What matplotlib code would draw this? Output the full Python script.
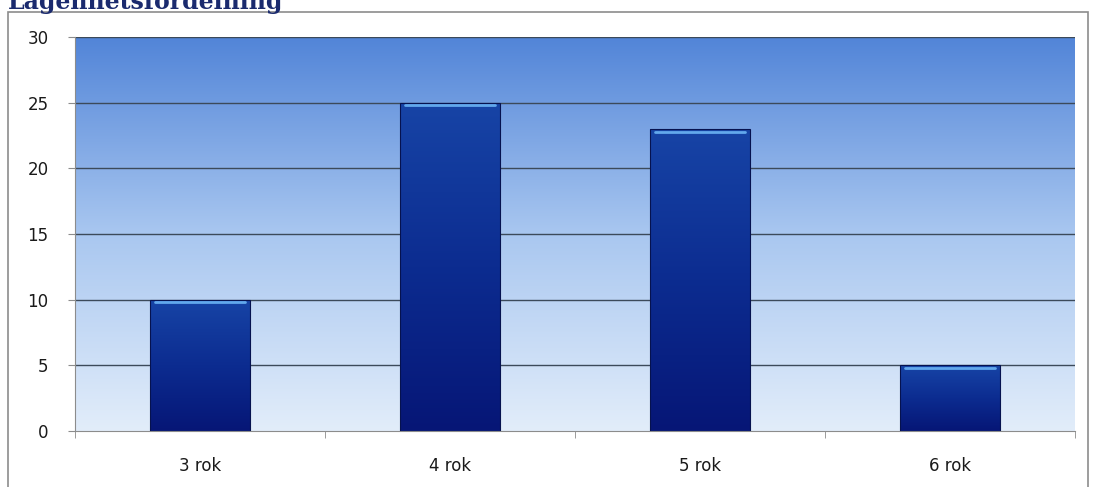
import numpy as np
import matplotlib
matplotlib.use("Agg")
import matplotlib.pyplot as plt
from matplotlib.colors import LinearSegmentedColormap
from matplotlib.patches import Rectangle

# apartment size distribution
categories = ["3 rok", "4 rok", "5 rok", "6 rok"]
counts = [10, 25, 23, 5]
title = "Lägenhetsfördelning"

fig = plt.figure(figsize=(10.93, 4.87), dpi=100)
fig.patch.set_facecolor("white")

# outer chart frame
frame = Rectangle((8 / 1093, -0.1), (1088 - 8) / 1093, 1.1 - 12 / 487,
                  transform=fig.transFigure, fill=False,
                  edgecolor="#8c8c8c", lw=1.2)
fig.patches.append(frame)

# title, partly cut off by top edge like the scan
fig.text(8 / 1093, 1.0 - 1 / 487, title, family="DejaVu Serif", weight="bold",
         fontsize=17, color="#1a2a6e", va="center", ha="left")

ax = fig.add_axes([75 / 1093, 56 / 487, 1000 / 1093, 394 / 487])
x = np.arange(len(categories))
ax.set_xlim(-0.5, len(categories) - 0.5)
ax.set_ylim(0, 30)

# background gradient
bg_cmap = LinearSegmentedColormap.from_list("bg", ["#e2edfa", "#a9c7f0", "#5285d8"])
grad = np.linspace(0, 1, 256).reshape(-1, 1)
ax.imshow(grad, cmap=bg_cmap, aspect="auto", origin="lower",
          extent=[-0.5, len(categories) - 0.5, 0, 30], zorder=0)

# gridlines
for yv in range(5, 31, 5):
    ax.axhline(yv, color="#3c4a5a", lw=1.0, zorder=1)

# bars with gradient fill
bar_cmap = LinearSegmentedColormap.from_list("bar", ["#061676", "#0c2c90", "#1744a6"])
bars = ax.bar(x, counts, width=0.4, color="none", edgecolor="#06124f", lw=0.8, zorder=3)
for b, h in zip(bars, counts):
    x0 = b.get_x()
    w = b.get_width()
    im = ax.imshow(grad, cmap=bar_cmap, aspect="auto", origin="lower",
                   extent=[x0, x0 + w, 0, h], zorder=2)
    im.set_clip_path(b)
    # glossy highlight near top
    ax.plot([x0 + 0.02, x0 + w - 0.02], [h - 0.2, h - 0.2],
            color="#62a8ec", lw=2.0, solid_capstyle="round", zorder=4)

ax.set_xticks(x)
ax.set_xticklabels(categories, fontsize=12, color="#1a1a1a")
ax.set_xticks(np.arange(-0.5, len(categories), 1), minor=True)
ax.tick_params(axis="x", which="major", length=0, pad=19)
ax.tick_params(axis="x", which="minor", length=5, color="#8c8c8c", direction="out")
ax.set_yticks(range(0, 31, 5))
ax.tick_params(axis="y", length=5, color="#8c8c8c", labelsize=12, labelcolor="#1a1a1a", pad=14)

for side in ["top", "right"]:
    ax.spines[side].set_visible(False)
ax.spines["left"].set_color("#8c8c8c")
ax.spines["bottom"].set_color("#8c8c8c")

fig.savefig("out.png", dpi=100)
